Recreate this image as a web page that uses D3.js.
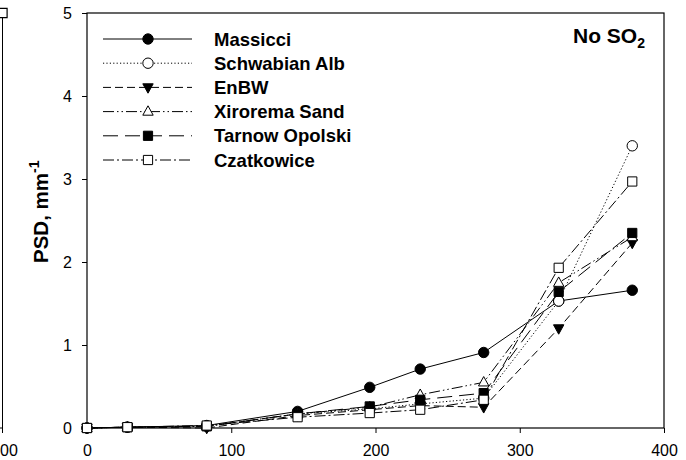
<!DOCTYPE html>
<html>
<head>
<meta charset="utf-8">
<script src="https://cdn.jsdelivr.net/npm/d3@7"></script>
<style>
body { margin: 0; background: #fff; }
svg { font-family: "Liberation Sans", Arial, sans-serif; }
</style>
</head>
<body>
<div id="chart"></div>
<script>
const xValues = [0, 28, 83, 146, 196, 231, 275, 327, 378];
const seriesNames = ["Massicci", "Schwabian Alb", "EnBW", "Xirorema Sand", "Tarnow Opolski", "Czatkowice"];
const massicci = [0, 0.01, 0.03, 0.2, 0.49, 0.71, 0.91, 1.53, 1.66];
const schwabian = [0, 0.01, 0.02, 0.17, 0.23, 0.29, 0.36, 1.53, 3.4];
const enbw = [0, 0.01, 0.0, 0.15, 0.22, 0.27, 0.25, 1.2, 2.23];
const xirorema = [0, 0.01, 0.02, 0.17, 0.25, 0.4, 0.55, 1.75, 2.3];
const tarnow = [0, 0.01, 0.02, 0.17, 0.26, 0.34, 0.42, 1.64, 2.35];
const czatkowice = [0, 0.01, 0.03, 0.13, 0.18, 0.22, 0.34, 1.93, 2.97];
const xTicks = [0, 100, 200, 300, 400];
const yTicks = [0, 1, 2, 3, 4, 5];

const styles = [
    { values: massicci, dash: null, marker: "circle", fill: "#000" },
    { values: schwabian, dash: "1.2,2.2", marker: "circle", fill: "#fff" },
    { values: enbw, dash: "8,4", marker: "triDown", fill: "#000" },
    { values: xirorema, dash: "11,3,1.5,3,1.5,3", marker: "triUp", fill: "#fff" },
    { values: tarnow, dash: "15,7", marker: "square", fill: "#000" },
    { values: czatkowice, dash: "11,3,2,3", marker: "square", fill: "#fff" }
];

const margin = { top: 13, left: 87 };
const width = 664 - 87;
const height = 428 - 13;

const svg = d3.select("#chart")
    .append("svg")
    .attr("width", 686)
    .attr("height", 460);

const x = d3.scaleLinear().domain([0, 400]).range([0, width]);
const y = d3.scaleLinear().domain([0, 5]).range([height, 0]);

function markerPath(type) {
    if (type === "circle") return "M5.2,0A5.2,5.2 0 1,1 -5.2,0A5.2,5.2 0 1,1 5.2,0Z";
    if (type === "square") return "M-4.6,-4.6H4.6V4.6H-4.6Z";
    if (type === "triUp") return "M0,-5.8L5.2,3.6H-5.2Z";
    return "M0,5.8L5.2,-3.6H-5.2Z";
}

// edge of the neighbouring panel on the left
const stray = svg.append("g");
stray.append("line").attr("x1", 2.5).attr("x2", 2.5).attr("y1", margin.top).attr("y2", margin.top + height + 5)
    .attr("stroke", "#000");
stray.append("line").attr("x1", 0).attr("x2", 2.5).attr("y1", margin.top + height).attr("y2", margin.top + height)
    .attr("stroke", "#000");
stray.append("line").attr("x1", 0).attr("x2", 2.5).attr("y1", margin.top).attr("y2", margin.top)
    .attr("stroke", "#000");
stray.append("path").attr("d", markerPath("square"))
    .attr("transform", `translate(2.5,${margin.top})`)
    .attr("fill", "#fff").attr("stroke", "#000").attr("stroke-width", 1.2);
stray.append("text").attr("x", 0).attr("y", 456)
    .style("font-size", "16px").text("00");

const g = svg.append("g")
    .attr("transform", `translate(${margin.left},${margin.top})`);

// frame
g.append("rect").attr("x", 0).attr("y", 0).attr("width", width).attr("height", height)
    .attr("fill", "none").attr("stroke", "#000").attr("stroke-width", 1.2);

const xAxis = g.append("g")
    .attr("transform", `translate(0,${height})`)
    .call(d3.axisBottom(x).tickValues(xTicks).tickFormat(d3.format("d")).tickSize(5).tickPadding(12).tickSizeOuter(0));
const yAxis = g.append("g")
    .call(d3.axisLeft(y).tickValues(yTicks).tickFormat(d3.format("d")).tickSize(5).tickPadding(10).tickSizeOuter(0));
[xAxis, yAxis].forEach(a => {
    a.select(".domain").remove();
    a.selectAll("text").style("font-size", "16px").style("font-family", "Liberation Sans, Arial, sans-serif").attr("fill", "#000");
    a.selectAll("line").attr("stroke", "#000");
});
yAxis.selectAll("text").attr("dy", "0.36em");

const line = d3.line()
    .x((d, i) => x(xValues[i]))
    .y(d => y(d));

styles.forEach(s => {
    g.append("path")
        .datum(s.values)
        .attr("fill", "none")
        .attr("stroke", "#000")
        .attr("stroke-width", 1)
        .attr("stroke-dasharray", s.dash)
        .attr("d", line);
});

styles.forEach(s => {
    g.selectAll(null)
        .data(s.values)
        .enter()
        .append("path")
        .attr("d", markerPath(s.marker))
        .attr("transform", (d, i) => `translate(${x(xValues[i])},${y(d)})`)
        .attr("fill", s.fill)
        .attr("stroke", "#000")
        .attr("stroke-width", 1);
});

// legend
const legend = svg.append("g");
styles.forEach((s, i) => {
    const ly = 39 + i * 24.2;
    legend.append("line")
        .attr("x1", 103).attr("x2", 192).attr("y1", ly).attr("y2", ly)
        .attr("stroke", "#000").attr("stroke-width", 1)
        .attr("stroke-dasharray", s.dash);
    legend.append("path")
        .attr("d", markerPath(s.marker))
        .attr("transform", `translate(148,${ly})`)
        .attr("fill", s.fill).attr("stroke", "#000");
    legend.append("text")
        .attr("x", 214).attr("y", ly + 6.5)
        .style("font-size", "18.5px").style("font-weight", "bold")
        .text(seriesNames[i]);
});

// panel title
const title = svg.append("text")
    .attr("x", 573).attr("y", 43)
    .style("font-size", "21px").style("font-weight", "bold");
title.append("tspan").text("No SO");
title.append("tspan").attr("dy", 5).style("font-size", "14px").text("2");

// y axis label
const yl = svg.append("text")
    .attr("transform", "translate(48,263) rotate(-90)")
    .style("font-size", "20.5px").style("font-weight", "bold");
yl.append("tspan").text("PSD, mm");
yl.append("tspan").attr("dy", -9).style("font-size", "14px").text("-1");
</script>
</body>
</html>
